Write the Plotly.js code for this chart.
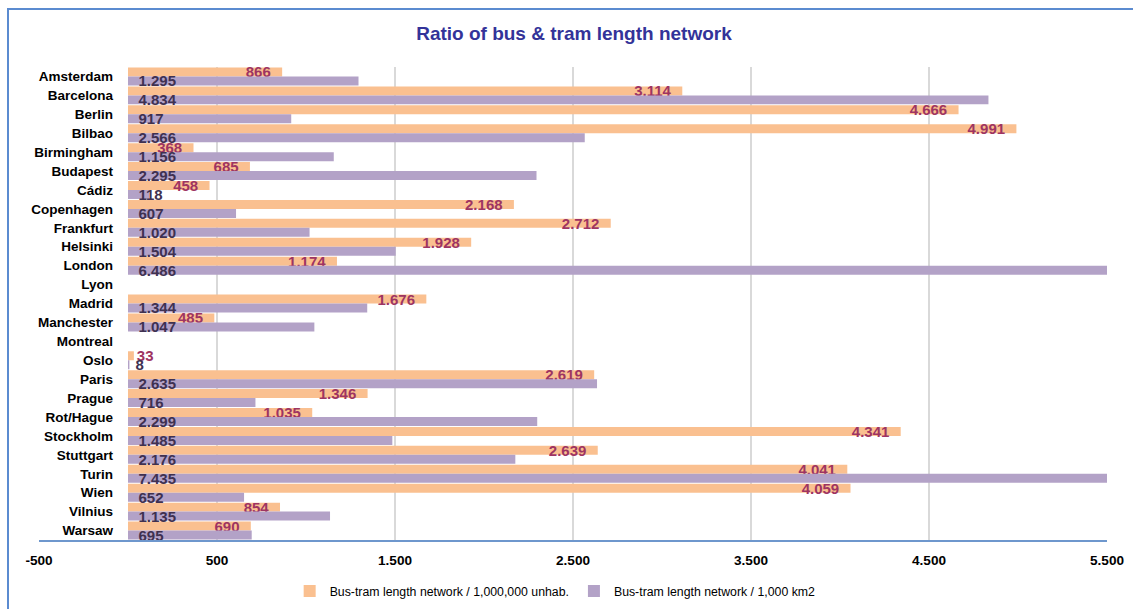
<!DOCTYPE html>
<html>
<head>
<meta charset="utf-8">
<script src="https://cdn.plot.ly/plotly-3.0.1.min.js"></script>
<style>
  html, body { margin: 0; padding: 0; background: #ffffff; overflow: hidden; }
  #chart { width: 1133px; height: 609px; }
  #frame {
    position: absolute; left: 7px; top: 8px; width: 1200px; height: 700px;
    border-top: 2px solid #5b8bd0; border-left: 2px solid #5b8bd0;
    pointer-events: none; z-index: 5;
  }
</style>
</head>
<body>
<div id="frame"></div>
<div id="chart"></div>
<script>
// Cities, top to bottom
const cities = [
  'Amsterdam', 'Barcelona', 'Berlin', 'Bilbao', 'Birmingham', 'Budapest', 'Cádiz',
  'Copenhagen', 'Frankfurt', 'Helsinki', 'London', 'Lyon', 'Madrid', 'Manchester',
  'Montreal', 'Oslo', 'Paris', 'Prague', 'Rot/Hague', 'Stockholm', 'Stuttgart',
  'Turin', 'Wien', 'Vilnius', 'Warsaw'
];

// Bus-tram network length per 1,000,000 inhabitants (null = no data)
const perMillionInhab = [
  866, 3114, 4666, 4991, 368, 685, 458,
  2168, 2712, 1928, 1174, null, 1676, 485,
  null, 33, 2619, 1346, 1035, 4341, 2639,
  4041, 4059, 854, 690
];

// Bus-tram network length per 1,000 km2 (null = no data)
const perThousandKm2 = [
  1295, 4834, 917, 2566, 1156, 2295, 118,
  607, 1020, 1504, 6486, null, 1344, 1047,
  null, 8, 2635, 716, 2299, 1485, 2176,
  7435, 652, 1135, 695
];

const seriesNames = [
  'Bus-tram length network / 1,000,000 unhab.',
  'Bus-tram length network / 1,000 km2'
];

const xTicks = [-500, 500, 1500, 2500, 3500, 4500, 5500];

// dot as thousands separator, plain hyphen for negatives
function fmt(v) {
  const s = String(Math.abs(v)).replace(/\B(?=(\d{3})+(?!\d))/g, '.');
  return (v < 0 ? '-' : '') + s;
}
const xTickText = xTicks.map(fmt);

const SANS = 'Liberation Sans, Arial, sans-serif';
const NB = '\u00a0';

// very short bars carry their label just past the bar end
const orangePos = perMillionInhab.map(v => (v !== null && v < 100) ? 'outside' : 'inside');
const orangeTpl = perMillionInhab.map(v => (v !== null && v < 100) ? '%{x:,.0f}' : '%{x:,.0f}' + NB + NB);

const traces = [
  {
    type: 'bar', orientation: 'h',
    name: seriesNames[0],
    y: cities, x: perMillionInhab,
    marker: { color: '#fac090' },
    texttemplate: orangeTpl,
    textposition: orangePos,
    insidetextanchor: 'end',
    textangle: 0,
    constraintext: 'none',
    textfont: { family: SANS, size: 15, color: '#9e3462', weight: 'bold' },
    outsidetextfont: { family: SANS, size: 15, color: '#9e3462', weight: 'bold' },
    hoverinfo: 'x+y'
  },
  {
    type: 'bar', orientation: 'h',
    name: seriesNames[1],
    y: cities, x: perThousandKm2,
    marker: { color: '#b3a2c7' },
    texttemplate: '\u2002%{x:,.0f}',
    textposition: 'inside',
    insidetextanchor: 'start',
    textangle: 0,
    constraintext: 'none',
    textfont: { family: SANS, size: 15, color: '#3f3151', weight: 'bold' },
    hoverinfo: 'x+y'
  }
];

const layout = {
  width: 1133, height: 609,
  margin: { l: 39, r: 26, t: 67, b: 69, autoexpand: false },
  paper_bgcolor: '#ffffff', plot_bgcolor: '#ffffff',
  separators: ',.',
  barmode: 'group',
  bargap: 0.05,
  bargroupgap: 0,
  showlegend: true,
  title: {
    text: 'Ratio of bus & tram length network',
    font: { family: SANS, size: 19, color: '#333399', weight: 'bold' },
    x: 0.5066, xref: 'container', xanchor: 'center',
    y: 0.945, yref: 'container', yanchor: 'middle'
  },
  xaxis: {
    range: [-500, 5500],
    tickmode: 'array', tickvals: xTicks, ticktext: xTickText,
    showgrid: true, gridcolor: '#d9d9d9', gridwidth: 1.5,
    zeroline: false,
    showline: true, linecolor: '#6e97cd', linewidth: 2,
    ticks: '',
    ticklabelstandoff: 7,
    automargin: false,
    tickfont: { family: SANS, size: 13.6, color: '#000000', weight: 'bold' },
    fixedrange: true
  },
  yaxis: {
    type: 'category',
    categoryorder: 'array', categoryarray: cities,
    tickmode: 'array', tickvals: cities, ticktext: cities,
    autorange: 'reversed',
    anchor: 'free', position: 500 / 6000,
    showgrid: false, zeroline: false, showline: false,
    ticks: '',
    ticklabelstandoff: 15,
    automargin: false,
    tickfont: { family: SANS, size: 13.5, color: '#000000', weight: 'bold' },
    fixedrange: true
  },
  legend: {
    orientation: 'h',
    x: 0.4833, xanchor: 'center',
    y: -0.108, yanchor: 'middle',
    font: { family: SANS, size: 12.3, color: '#000000' },
    bgcolor: 'rgba(0,0,0,0)'
  }
};

Plotly.newPlot('chart', traces, layout, { displayModeBar: false, staticPlot: true });
</script>
</body>
</html>
